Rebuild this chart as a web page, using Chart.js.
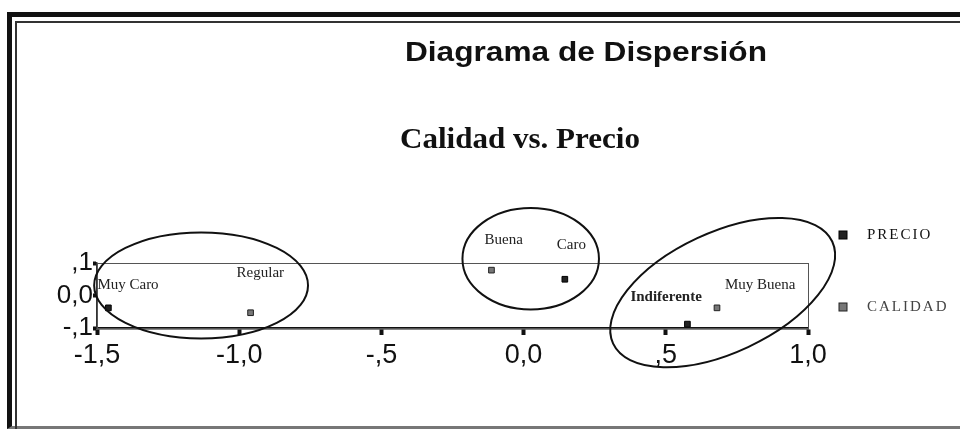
<!DOCTYPE html>
<html lang="es">
<head>
  <meta charset="UTF-8" />
  <title>Diagrama de Dispersión</title>
  <script src="https://cdn.jsdelivr.net/npm/chart.js"></script>
  <style>
    body {
      margin: 0;
      background: #fff;
      font-family: 'Liberation Sans', Arial, sans-serif;
    }
    #wrap {
      position: relative;
      width: 960px;
      height: 429px;
      overflow: hidden;
    }
    #frame-outer {
      position: absolute;
      left: 7px; top: 12px;
      width: 970px; height: 409px;
      border-top: 5px solid #111;
      border-left: 5px solid #111;
      border-bottom: 3px solid #777;
    }
    #frame-inner {
      position: absolute;
      left: 15px; top: 21px;
      width: 960px; height: 420px;
      border-top: 2px solid #333;
      border-left: 2px solid #333;
    }
    #chart-box {
      position: absolute;
      left: 0; top: 0;
      width: 960px; height: 429px;
    }
  </style>
</head>
<body>
  <div id="wrap">
    <div id="frame-outer"></div>
    <div id="frame-inner"></div>
    <div id="chart-box">
      <canvas id="dispChart"></canvas>
    </div>
  </div>

  <script>
    // valores
    const precioLabels = ['Muy Caro', 'Caro', 'Indiferente'];
    const precioX = [-1.46, 0.145, 0.576];
    const precioY = [-0.038, 0.05, -0.088];

    const calidadLabels = ['Regular', 'Buena', 'Muy Buena'];
    const calidadX = [-0.96, -0.113, 0.68];
    const calidadY = [-0.053, 0.078, -0.038];

    const xTicks = [-1.5, -1.0, -0.5, 0.0, 0.5, 1.0];
    const yTicks = [-0.1, 0.0, 0.1];

    // circulos dibujados a mano sobre el grafico (centro y radios en unidades de los ejes)
    const groupCircles = [
      { cx: -1.134, cy: 0.031, rx: 0.376, ry: 0.163, rot: 0 },
      { cx: 0.025, cy: 0.113, rx: 0.24, ry: 0.156, rot: 0 },
      { cx: 0.70, cy: 0.009, rx: 0.425, ry: 0.185, rot: -25 }
    ];

    // desplazamiento de cada etiqueta respecto a su punto (px)
    const labelNudge = {
      'Muy Caro': [-11, -19], 'Caro': [-8, -30], 'Indiferente': [-57, -23],
      'Regular': [-14, -36], 'Buena': [-7, -26], 'Muy Buena': [8, -19]
    };

    const toPoints = (xs, ys) => xs.map((x, i) => ({ x: x, y: ys[i] }));

    function fmtTick(v) {
      if (Math.abs(v) < 1e-9) return '0,0';
      let s = v.toFixed(1);
      if (Math.abs(v) < 1) s = s.replace('0.', '.');
      return s.replace('.', ',');
    }

    function drawFitted(ctx, text, font, cx, baseline, width) {
      ctx.save();
      ctx.font = font;
      const w = ctx.measureText(text).width;
      ctx.translate(cx, baseline);
      ctx.scale(width / w, 1);
      ctx.textAlign = 'center';
      ctx.textBaseline = 'alphabetic';
      ctx.fillStyle = '#111';
      ctx.fillText(text, 0, 0);
      ctx.restore();
    }

    const decorPlugin = {
      id: 'decor',
      beforeDatasetsDraw(chart) {
        const { ctx, chartArea: a } = chart;
        ctx.save();
        ctx.strokeStyle = '#555';
        ctx.lineWidth = 1;
        ctx.strokeRect(a.left + 0.5, a.top + 0.5, a.right - a.left, a.bottom - a.top);
        ctx.restore();
      },
      afterDatasetsDraw(chart) {
        const { ctx, chartArea: a, scales } = chart;
        const xs = scales.x, ys = scales.y;

        // titulos
        drawFitted(ctx, 'Diagrama de Dispersión', 'bold 28px "Liberation Sans", Arial, sans-serif', 586, 61, 362);
        drawFitted(ctx, 'Calidad vs. Precio', 'bold 29px "Liberation Serif", "Times New Roman", serif', 520, 148, 240);

        // etiquetas de los puntos
        ctx.save();
        ctx.fillStyle = '#222';
        ctx.textBaseline = 'alphabetic';
        chart.data.datasets.forEach((ds, di) => {
          const meta = chart.getDatasetMeta(di);
          meta.data.forEach((el, i) => {
            const name = ds.names[i];
            const n = labelNudge[name] || [-8, -20];
            ctx.font = (name === 'Indiferente' ? 'bold ' : '') + '15px "Liberation Serif", "Times New Roman", serif';
            ctx.fillText(name, el.x + n[0], el.y + n[1]);
          });
        });
        ctx.restore();

        // circulos de grupos
        ctx.save();
        ctx.strokeStyle = '#111';
        ctx.lineWidth = 2;
        groupCircles.forEach(c => {
          const px = xs.getPixelForValue(c.cx);
          const py = ys.getPixelForValue(c.cy);
          const rx = Math.abs(xs.getPixelForValue(c.cx + c.rx) - px);
          const ry = Math.abs(ys.getPixelForValue(c.cy + c.ry) - py);
          ctx.beginPath();
          ctx.ellipse(px, py, rx, ry, c.rot * Math.PI / 180, 0, Math.PI * 2);
          ctx.stroke();
        });
        ctx.restore();

        // leyenda
        ctx.save();
        ctx.font = '15px "Liberation Serif", "Times New Roman", serif';
        ctx.letterSpacing = '2px';
        ctx.textBaseline = 'middle';
        const legendY = [a.top - 28, a.top + 44];
        chart.data.datasets.forEach((ds, di) => {
          const lx = a.right + 35, ly = legendY[di];
          ctx.fillStyle = ds.backgroundColor;
          ctx.strokeStyle = ds.borderColor;
          ctx.lineWidth = 1;
          ctx.fillRect(lx - 4, ly - 4, 8, 8);
          ctx.strokeRect(lx - 4, ly - 4, 8, 8);
          ctx.fillStyle = di === 0 ? '#111' : '#444';
          ctx.fillText(ds.label, lx + 24, ly);
        });
        ctx.restore();
      }
    };

    const ctx = document.getElementById('dispChart').getContext('2d');
    const chart = new Chart(ctx, {
      type: 'scatter',
      data: {
        datasets: [{
          label: 'PRECIO',
          names: precioLabels,
          data: toPoints(precioX, precioY),
          backgroundColor: '#222',
          borderColor: '#000',
          borderWidth: 1,
          pointStyle: 'rect',
          pointRadius: 4
        }, {
          label: 'CALIDAD',
          names: calidadLabels,
          data: toPoints(calidadX, calidadY),
          backgroundColor: '#777',
          borderColor: '#222',
          borderWidth: 1,
          pointStyle: 'rect',
          pointRadius: 4
        }]
      },
      options: {
        responsive: true,
        maintainAspectRatio: false,
        animation: false,
        layout: {
          padding: { left: 0, right: 152, top: 263, bottom: 41 }
        },
        scales: {
          x: {
            type: 'linear',
            min: -1.5,
            max: 1.0,
            afterBuildTicks: (s) => { s.ticks = xTicks.map(v => ({ value: v })); },
            afterFit: (s) => { s.height = 60; },
            border: { display: true, color: '#111', width: 2.5 },
            grid: { drawOnChartArea: false, drawTicks: true, tickLength: 7, tickWidth: 4, tickColor: '#111' },
            ticks: {
              autoSkip: false,
              maxRotation: 0,
              padding: 4,
              color: '#111',
              font: { family: '"Liberation Sans", Arial, sans-serif', size: 27 },
              callback: (v) => fmtTick(v)
            }
          },
          y: {
            type: 'linear',
            min: -0.1,
            max: 0.1,
            afterBuildTicks: (s) => { s.ticks = yTicks.map(v => ({ value: v })); },
            afterFit: (s) => { s.width = 97; },
            border: { display: true, color: '#333', width: 1.5 },
            grid: { drawOnChartArea: false, drawTicks: true, tickLength: 4, tickWidth: 4, tickColor: '#111' },
            ticks: {
              autoSkip: false,
              padding: 0,
              color: '#111',
              font: { family: '"Liberation Sans", Arial, sans-serif', size: 26 },
              callback: (v) => fmtTick(v)
            }
          }
        },
        plugins: {
          legend: { display: false },
          title: { display: false },
          tooltip: { enabled: false }
        }
      },
      plugins: [decorPlugin]
    });
  </script>
</body>
</html>
